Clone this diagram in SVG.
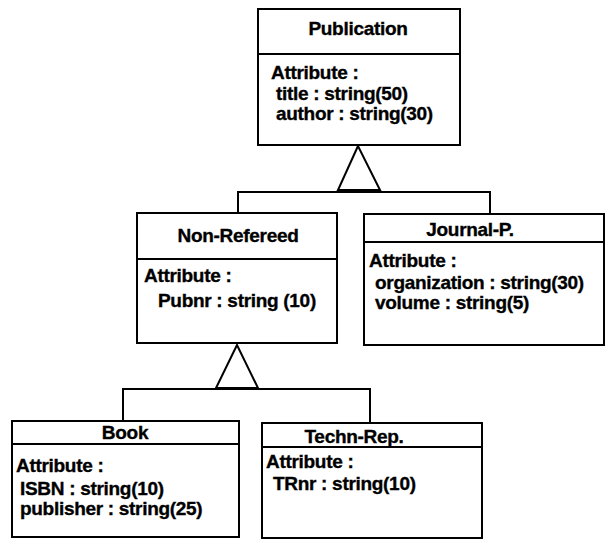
<svg xmlns="http://www.w3.org/2000/svg" width="606" height="544" viewBox="0 0 606 544">
  <style>
    .box { fill: #ffffff; stroke: #000000; stroke-width: 2; }
    .sep { stroke: #000000; stroke-width: 2; fill: none; }
    .wire { stroke: #000000; stroke-width: 2; fill: none; }
    .gen { stroke: #000000; stroke-width: 2; fill: #ffffff; stroke-linejoin: miter; }
    text { font-family: "Liberation Sans", Arial, sans-serif; font-weight: bold; font-size: 19px; fill: #000000; stroke: #000000; stroke-width: 0.35px; letter-spacing: -0.3px; }
    .title { text-anchor: middle; }
  </style>
  <rect width="606" height="544" fill="#ffffff"/>

  <!-- generalization connectors -->
  <g id="connectors">
    <polyline class="wire" points="238,213 238,192 490,192 490,214"/>
    <polygon class="gen" points="358,146 338,190 380,190"/>
    <polyline class="wire" points="123,421 123,389 370,389 370,423"/>
    <polygon class="gen" points="237,345 216,388 258,388"/>
  </g>

  <g id="publication">
    <rect class="box" x="258" y="9" width="202" height="136"/>
    <line class="sep" x1="258" y1="54" x2="460" y2="54"/>
    <text class="title" x="358" y="35">Publication</text>
    <text x="271" y="79">Attribute :</text>
    <text x="276" y="100">title : string(50)</text>
    <text x="276" y="120">author : string(30)</text>
  </g>

  <g id="non-refereed">
    <rect class="box" x="137" y="213" width="200" height="130"/>
    <line class="sep" x1="137" y1="259" x2="337" y2="259"/>
    <text class="title" x="238" y="242">Non-Refereed</text>
    <text x="144" y="282">Attribute :</text>
    <text x="158" y="307">Pubnr : string (10)</text>
  </g>

  <g id="journal-p">
    <rect class="box" x="364" y="214" width="240" height="131"/>
    <line class="sep" x1="364" y1="242" x2="604" y2="242"/>
    <text class="title" x="470" y="236">Journal-P.</text>
    <text x="369" y="267">Attribute :</text>
    <text x="375" y="289">organization : string(30)</text>
    <text x="375" y="309">volume : string(5)</text>
  </g>

  <g id="book">
    <rect class="box" x="12" y="421" width="227" height="116"/>
    <line class="sep" x1="12" y1="444" x2="239" y2="444"/>
    <text class="title" x="125" y="439">Book</text>
    <text x="16" y="472">Attribute :</text>
    <text x="20" y="495">ISBN : string(10)</text>
    <text x="20" y="515">publisher : string(25)</text>
  </g>

  <g id="techn-rep">
    <rect class="box" x="262" y="423" width="220" height="115"/>
    <line class="sep" x1="262" y1="447" x2="482" y2="447"/>
    <text class="title" x="354" y="443">Techn-Rep.</text>
    <text x="266" y="468">Attribute :</text>
    <text x="273" y="490">TRnr : string(10)</text>
  </g>
</svg>
